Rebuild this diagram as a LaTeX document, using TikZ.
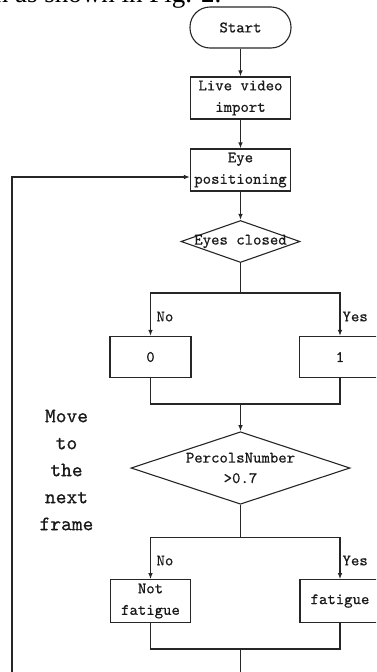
\documentclass[tikz,border=0pt]{standalone}
\usepackage{fontspec}
\newfontfamily\capfont{Liberation Serif}
\newfontfamily\boxfont{lmmono10-regular.otf}[FakeBold=0.6]
\usetikzlibrary{shapes.geometric,arrows.meta}
\begin{document}
\begin{tikzpicture}[x=1pt,y=-1pt,
  line width=1.1pt, draw=black!85,
  txt/.style={font=\boxfont\fontsize{16}{21.5}\selectfont, text=black!90, align=center},
  box/.style={draw, rectangle, inner sep=0pt, txt},
  pill/.style={draw, rectangle, rounded corners=20pt, inner sep=0pt, txt},
  dia/.style={draw, diamond, inner sep=0pt},
  arr/.style={-{Latex[length=6pt,width=4.5pt]}},
  lbl/.style={txt, anchor=west, inner sep=0pt}]
\useasboundingbox (0,0) rectangle (376,672);
\clip (0,0) rectangle (376,672);

\node[anchor=base east, inner sep=0pt, font=\capfont\fontsize{27}{27}\selectfont] (cap) at (222,2) {n as shown in Fig. 2.};

\node[pill, minimum width=101pt, minimum height=41pt] (start) at (240.5,27.5) {Start};
\node[box, minimum width=100pt, minimum height=42pt] (live) at (240.5,98) {Live video\\import};
\node[box, minimum width=100pt, minimum height=42pt] (eye) at (240.5,170) {Eye\\positioning};
\node[dia, minimum width=119pt, minimum height=42pt] (d1) at (240.5,241.5) {};
\node[txt, inner sep=0pt] (d1t) at (d1.center) {Eyes closed};
\node[box, minimum width=81pt, minimum height=41pt] (b0) at (150.5,357) {0};
\node[box, minimum width=81pt, minimum height=41pt] (b1) at (340,357) {1};
\node[dia, minimum width=219pt, minimum height=72.5pt] (d2) at (240.5,468) {};
\node[txt, inner sep=0pt] (d2t) at (d2.center) {PercolsNumber\\[-1pt]>0.7};
\node[box, minimum width=80pt, minimum height=42.5pt] (nf) at (150.5,601) {Not\\fatigue};
\node[box, minimum width=80pt, minimum height=42.5pt] (fa) at (340,601) {fatigue};

\node[lbl] (no1) at (156,316.5) {No};
\node[lbl] (yes1) at (342,316.5) {Yes};
\node[lbl] (no2) at (156,560.5) {No};
\node[lbl] (yes2) at (342,560.5) {Yes};

\node[font=\boxfont\fontsize{20.5}{27}\selectfont, text=black!90, align=center, inner sep=0pt] (move) at (66.5,470) {Move\\to\\the\\next\\frame};

\coordinate (j1) at (240.5,293);
\coordinate (j2) at (240.5,404);
\coordinate (j3) at (240.5,537.5);
\coordinate (j4) at (240.5,649);
\coordinate (jend) at (240.5,690);
\coordinate (lb) at (12,690);
\coordinate (lt) at (12,177);

\draw[arr] (start) -- (live);
\draw[arr] (live) -- (eye);
\draw[arr] (eye) -- (d1);
\draw (d1.south) -- (j1);
\draw[arr] (j1) -| (b0.north);
\draw[arr] (j1) -| (b1.north);
\draw (b0.south) |- (j2) -| (b1.south);
\draw[arr] (j2) -- (d2.north);
\draw (d2.south) -- (j3);
\draw[arr] (j3) -| (nf.north);
\draw[arr] (j3) -| (fa.north);
\draw (nf.south) |- (j4) -| (fa.south);
\draw (j4) -- (jend);
\draw[arr] (lb) -- (lt) -- (eye.west |- lt);
\end{tikzpicture}
\end{document}
